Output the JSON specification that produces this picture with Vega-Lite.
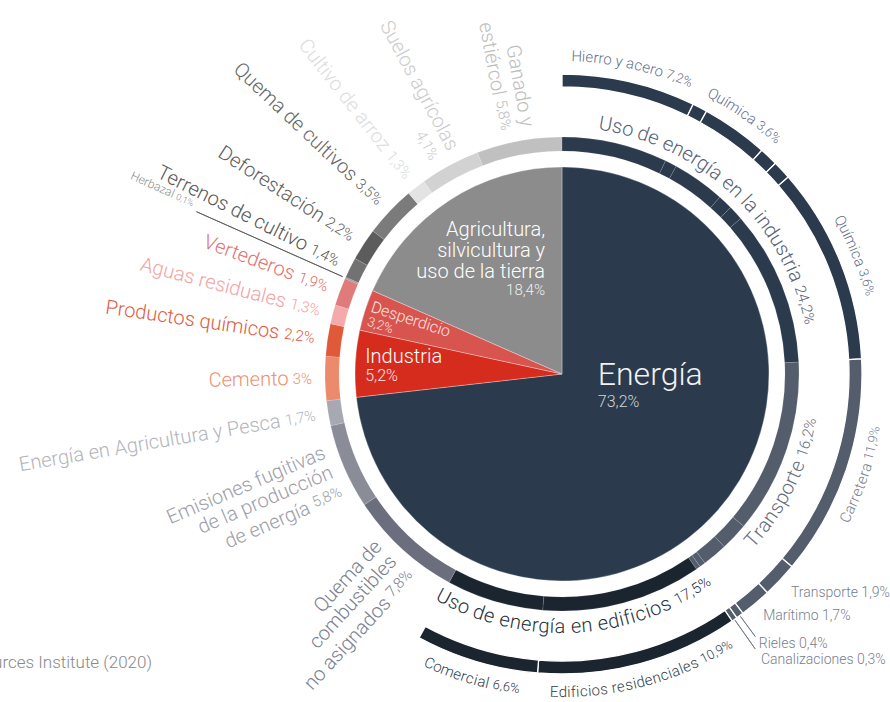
{
  "$schema": "https://vega.github.io/schema/vega-lite/v6.json",
  "autosize": {"type": "none"},
  "width": 600,
  "height": 600,
  "padding": {"left": 262, "top": 74, "right": 28, "bottom": 28},
  "background": "white",
  "config": {"view": {"stroke": null}, "font": "Roboto", "text": {"font": "Roboto", "fontWeight": 300}},
  "title": {"text": "Fuente: World Resources Institute (2020)", "orient": "bottom", "anchor": "start", "frame": "group", "align": "right", "baseline": "alphabetic", "dx": -110, "dy": -32, "offset": 0, "fontSize": 17, "fontWeight": 300, "color": "#888888", "font": "Roboto"},
  "data": {"values": [
    {"l1": "Energía", "l2": "Uso de energía en la industria", "l3": "Hierro y acero", "v": 7.2, "lab": "Hierro y acero", "pl": "7,2%"},
    {"l1": "Energía", "l2": "Uso de energía en la industria", "l3": "Metales no ferrosos", "v": 0.8},
    {"l1": "Energía", "l2": "Uso de energía en la industria", "l3": "Química", "v": 3.6, "lab": "Química", "pl": "3,6%"},
    {"l1": "Energía", "l2": "Uso de energía en la industria", "l3": "Alimentos y tabaco", "v": 1.0},
    {"l1": "Energía", "l2": "Uso de energía en la industria", "l3": "Papel, pulpa e impresión", "v": 1.0},
    {"l1": "Energía", "l2": "Uso de energía en la industria", "l3": "Otras industrias", "v": 10.6, "lab": "Química", "pl": "3,6%"},
    {"l1": "Energía", "l2": "Transporte", "l3": "Carretera", "v": 11.9, "lab": "Carretera", "pl": "11,9%"},
    {"l1": "Energía", "l2": "Transporte", "l3": "Aviación", "v": 1.9, "lab": "Transporte", "pl": "1,9%"},
    {"l1": "Energía", "l2": "Transporte", "l3": "Marítimo", "v": 1.7, "lab": "Marítimo", "pl": "1,7%"},
    {"l1": "Energía", "l2": "Transporte", "l3": "Rieles", "v": 0.4, "lab": "Rieles", "pl": "0,4%"},
    {"l1": "Energía", "l2": "Transporte", "l3": "Canalizaciones", "v": 0.3, "lab": "Canalizaciones", "pl": "0,3%"},
    {"l1": "Energía", "l2": "Uso de energía en edificios", "l3": "Edificios residenciales", "v": 10.9, "lab": "Edificios residenciales", "pl": "10,9%"},
    {"l1": "Energía", "l2": "Uso de energía en edificios", "l3": "Comercial", "v": 6.6, "lab": "Comercial", "pl": "6,6%"},
    {"l1": "Energía", "l2": "Quema de combustibles no asignados", "v": 7.8},
    {"l1": "Energía", "l2": "Emisiones fugitivas de la producción de energía", "v": 5.8},
    {"l1": "Energía", "l2": "Energía en Agricultura y Pesca", "v": 1.7},
    {"l1": "Industria", "l2": "Cemento", "v": 3.0},
    {"l1": "Industria", "l2": "Productos químicos", "v": 2.2},
    {"l1": "Desperdicio", "l2": "Aguas residuales", "v": 1.3},
    {"l1": "Desperdicio", "l2": "Vertederos", "v": 1.9},
    {"l1": "Agricultura, silvicultura y uso de la tierra", "l2": "Herbazal", "v": 0.1},
    {"l1": "Agricultura, silvicultura y uso de la tierra", "l2": "Terrenos de cultivo", "v": 1.4},
    {"l1": "Agricultura, silvicultura y uso de la tierra", "l2": "Deforestación", "v": 2.2},
    {"l1": "Agricultura, silvicultura y uso de la tierra", "l2": "Quema de cultivos", "v": 3.5},
    {"l1": "Agricultura, silvicultura y uso de la tierra", "l2": "Cultivo de arroz", "v": 1.3},
    {"l1": "Agricultura, silvicultura y uso de la tierra", "l2": "Suelos agrícolas", "v": 4.1},
    {"l1": "Agricultura, silvicultura y uso de la tierra", "l2": "Ganado y estiércol", "v": 5.8}
  ]},
  "transform": [
    {"stack": "v", "groupby": [], "as": ["s", "e"]},
    {"calculate": "({'Uso de energía en la industria':'#2b3a4d','Transporte':'#545d6c','Uso de energía en edificios':'#1b2530','Quema de combustibles no asignados':'#6b6e7d','Emisiones fugitivas de la producción de energía':'#8a8c98','Energía en Agricultura y Pesca':'#a7a8b2','Cemento':'#ec8a6c','Productos químicos':'#e05a3a','Aguas residuales':'#f4aaaa','Vertederos':'#e07b7b','Herbazal':'#9a9a9a','Terrenos de cultivo':'#727272','Deforestación':'#5c5c5c','Quema de cultivos':'#7b7b7b','Cultivo de arroz':'#e3e3e3','Suelos agrícolas':'#d2d2d2','Ganado y estiércol':'#c0c0c0'})[datum.l2]", "as": "c2"},
    {"calculate": "({'Uso de energía en la industria':'#56617a','Transporte':'#666e7d','Uso de energía en edificios':'#27313d','Quema de combustibles no asignados':'#7c8090','Emisiones fugitivas de la producción de energía':'#9c9ea8','Energía en Agricultura y Pesca':'#b3b4bc','Cemento':'#ee8f70','Productos químicos':'#df5a3d','Aguas residuales':'#f3a3a3','Vertederos':'#e07272','Herbazal':'#8c8c8c','Terrenos de cultivo':'#555555','Deforestación':'#5e5e5e','Quema de cultivos':'#666666','Cultivo de arroz':'#dddddd','Suelos agrícolas':'#cccccc','Ganado y estiércol':'#bdbdbd'})[datum.l2]", "as": "t2"}
  ],
  "layer": [
    {
      "transform": [
        {"aggregate": [{"op": "min", "field": "s", "as": "s"}, {"op": "max", "field": "e", "as": "e"}], "groupby": ["l1"]},
        {"calculate": "({'Energía':'#2b3a4d','Industria':'#d62c1e','Desperdicio':'#d8544e','Agricultura, silvicultura y uso de la tierra':'#8c8c8c'})[datum.l1]", "as": "c1"}
      ],
      "mark": {"type": "arc", "radius": 207, "stroke": "#ffffff", "strokeWidth": 0.6, "strokeOpacity": 0.5},
      "encoding": {
        "theta": {"field": "s", "type": "quantitative", "scale": {"domain": [0, 100]}},
        "theta2": {"field": "e"},
        "color": {"field": "c1", "type": "nominal", "scale": null}
      }
    },
    {
      "mark": {"type": "arc", "radius": 237, "radius2": 223, "stroke": "#ffffff", "strokeWidth": 0.8, "strokeOpacity": 0.15},
      "encoding": {
        "theta": {"field": "s", "type": "quantitative", "scale": {"domain": [0, 100]}},
        "theta2": {"field": "e"},
        "color": {"field": "c2", "type": "nominal", "scale": null}
      }
    },
    {
      "transform": [{"filter": "datum.l3 != null"}],
      "mark": {"type": "arc", "radius": 300, "radius2": 287, "stroke": "#ffffff", "strokeWidth": 1.3},
      "encoding": {
        "theta": {"field": "s", "type": "quantitative", "scale": {"domain": [0, 100]}},
        "theta2": {"field": "e"},
        "color": {"field": "c2", "type": "nominal", "scale": null}
      }
    },
    {
      "transform": [
        {"filter": "datum.l2 == 'Herbazal' || datum.l3 == 'Rieles' || datum.l3 == 'Canalizaciones'"},
        {"calculate": "(datum.s + datum.e) / 2", "as": "mid"},
        {"calculate": "datum.l2 == 'Herbazal' ? 240 : 301", "as": "r0"},
        {"calculate": "datum.l2 == 'Herbazal' ? 400 : (datum.l3 == 'Rieles' ? 326 : 336)", "as": "r1"},
        {"calculate": "datum.l2 == 'Herbazal' ? '#555555' : '#6b7281'", "as": "lc"}
      ],
      "mark": {"type": "arc", "strokeWidth": 0.8, "fillOpacity": 0},
      "encoding": {
        "theta": {"field": "mid", "type": "quantitative", "scale": {"domain": [0, 100]}},
        "theta2": {"field": "mid"},
        "radius": {"field": "r1", "type": "quantitative", "scale": null},
        "radius2": {"field": "r0"},
        "stroke": {"field": "lc", "type": "nominal", "scale": null}
      }
    },
    {
      "transform": [
        {"aggregate": [{"op": "min", "field": "s", "as": "s"}, {"op": "max", "field": "e", "as": "e"}, {"op": "sum", "field": "v", "as": "v"}], "groupby": ["l1"]},
        {"filter": "datum.l1 == 'Energía'"},
        {"calculate": "(datum.s + datum.e) / 2", "as": "mid"}
      ],
      "mark": {"type": "text", "radius": 48, "align": "left", "baseline": "alphabetic", "fontSize": 32, "dy": -21, "color": "#f2f2f2"},
      "encoding": {
        "theta": {"field": "mid", "type": "quantitative", "scale": {"domain": [0, 100]}},
        "text": {"field": "l1"}
      }
    },
    {
      "transform": [
        {"aggregate": [{"op": "min", "field": "s", "as": "s"}, {"op": "max", "field": "e", "as": "e"}, {"op": "sum", "field": "v", "as": "v"}], "groupby": ["l1"]},
        {"filter": "datum.l1 == 'Energía'"},
        {"calculate": "(datum.s + datum.e) / 2", "as": "mid"},
        {"calculate": "replace(format(datum.v, '.1~f'), '.', ',') + '%'", "as": "pct"}
      ],
      "mark": {"type": "text", "radius": 48, "align": "left", "baseline": "alphabetic", "fontSize": 16, "dy": 1, "color": "#d0d4da"},
      "encoding": {
        "theta": {"field": "mid", "type": "quantitative", "scale": {"domain": [0, 100]}},
        "text": {"field": "pct"}
      }
    },
    {
      "transform": [
        {"aggregate": [{"op": "min", "field": "s", "as": "s"}, {"op": "max", "field": "e", "as": "e"}, {"op": "sum", "field": "v", "as": "v"}], "groupby": ["l1"]},
        {"filter": "datum.l1 == 'Agricultura, silvicultura y uso de la tierra'"},
        {"calculate": "(datum.s + datum.e) / 2", "as": "mid"},
        {"calculate": "['Agricultura,', 'silvicultura y', 'uso de la tierra']", "as": "lines"}
      ],
      "mark": {"type": "text", "radius": 150, "align": "right", "baseline": "alphabetic", "fontSize": 20, "lineHeight": 21, "dx": 65, "dy": -12, "color": "#ffffff"},
      "encoding": {
        "theta": {"field": "mid", "type": "quantitative", "scale": {"domain": [0, 100]}},
        "text": {"field": "lines"}
      }
    },
    {
      "transform": [
        {"aggregate": [{"op": "min", "field": "s", "as": "s"}, {"op": "max", "field": "e", "as": "e"}, {"op": "sum", "field": "v", "as": "v"}], "groupby": ["l1"]},
        {"filter": "datum.l1 == 'Agricultura, silvicultura y uso de la tierra'"},
        {"calculate": "(datum.s + datum.e) / 2", "as": "mid"},
        {"calculate": "replace(format(datum.v, '.1~f'), '.', ',') + '%'", "as": "pct"}
      ],
      "mark": {"type": "text", "radius": 150, "align": "right", "baseline": "alphabetic", "fontSize": 15, "dx": 65, "dy": 47, "color": "#f0f0f0"},
      "encoding": {
        "theta": {"field": "mid", "type": "quantitative", "scale": {"domain": [0, 100]}},
        "text": {"field": "pct"}
      }
    },
    {
      "transform": [
        {"aggregate": [{"op": "min", "field": "s", "as": "s"}, {"op": "max", "field": "e", "as": "e"}, {"op": "sum", "field": "v", "as": "v"}], "groupby": ["l1"]},
        {"filter": "datum.l1 == 'Industria'"},
        {"calculate": "(datum.s + datum.e) / 2", "as": "mid"}
      ],
      "mark": {"type": "text", "radius": 180, "align": "left", "baseline": "alphabetic", "fontSize": 20, "dx": -17, "dy": -2, "color": "#ffffff"},
      "encoding": {
        "theta": {"field": "mid", "type": "quantitative", "scale": {"domain": [0, 100]}},
        "text": {"field": "l1"}
      }
    },
    {
      "transform": [
        {"aggregate": [{"op": "min", "field": "s", "as": "s"}, {"op": "max", "field": "e", "as": "e"}, {"op": "sum", "field": "v", "as": "v"}], "groupby": ["l1"]},
        {"filter": "datum.l1 == 'Industria'"},
        {"calculate": "(datum.s + datum.e) / 2", "as": "mid"},
        {"calculate": "replace(format(datum.v, '.1~f'), '.', ',') + '%'", "as": "pct"}
      ],
      "mark": {"type": "text", "radius": 180, "align": "left", "baseline": "alphabetic", "fontSize": 16, "dx": -17, "dy": 16, "color": "#fbe6e4"},
      "encoding": {
        "theta": {"field": "mid", "type": "quantitative", "scale": {"domain": [0, 100]}},
        "text": {"field": "pct"}
      }
    },
    {
      "transform": [
        {"aggregate": [{"op": "min", "field": "s", "as": "s"}, {"op": "max", "field": "e", "as": "e"}, {"op": "sum", "field": "v", "as": "v"}], "groupby": ["l1"]},
        {"filter": "datum.l1 == 'Desperdicio'"},
        {"calculate": "(datum.s + datum.e) / 2", "as": "mid"}
      ],
      "mark": {"type": "text", "radius": 202, "align": "left", "baseline": "alphabetic", "fontSize": 16, "angle": 18, "color": "#fbe3e1"},
      "encoding": {
        "theta": {"field": "mid", "type": "quantitative", "scale": {"domain": [0, 100]}},
        "text": {"field": "l1"}
      }
    },
    {
      "transform": [
        {"aggregate": [{"op": "min", "field": "s", "as": "s"}, {"op": "max", "field": "e", "as": "e"}, {"op": "sum", "field": "v", "as": "v"}], "groupby": ["l1"]},
        {"filter": "datum.l1 == 'Desperdicio'"},
        {"calculate": "(datum.s + datum.e) / 2", "as": "mid"},
        {"calculate": "replace(format(datum.v, '.1~f'), '.', ',') + '%'", "as": "pct"}
      ],
      "mark": {"type": "text", "radius": 202, "align": "left", "baseline": "alphabetic", "fontSize": 13, "angle": 18, "dx": 1, "dy": 14, "color": "#fbe3e1"},
      "encoding": {
        "theta": {"field": "mid", "type": "quantitative", "scale": {"domain": [0, 100]}},
        "text": {"field": "pct"}
      }
    },
    {
      "transform": [
        {"filter": "datum.s >= 57.85 && datum.l2 != 'Herbazal'"},
        {"calculate": "(datum.s + datum.e) / 2", "as": "mid"},
        {"calculate": "datum.mid * 3.6 - 270", "as": "rot"},
        {"calculate": "replace(format(datum.v, '.1~f'), '.', ',') + '%'", "as": "pct"},
        {"calculate": "({'Quema de combustibles no asignados': ['Quema de', 'combustibles', 'no asignados'], 'Emisiones fugitivas de la producción de energía': ['Emisiones fugitivas', 'de la producción', 'de energía'], 'Suelos agrícolas': ['Suelos agrícolas', ''], 'Ganado y estiércol': ['Ganado y', 'estiércol']})[datum.l2] || [datum.l2]", "as": "lines"},
        {"calculate": "length(datum.lines)", "as": "n"},
        {"flatten": ["lines"], "as": ["ln"]},
        {"window": [{"op": "row_number", "as": "k"}], "groupby": ["l2"]},
        {"calculate": "(datum.k - 1 - (datum.n - 1) / 2) * 21", "as": "off"},
        {"calculate": "datum.mid - datum.off / 250 * 100 / (2 * PI)", "as": "th"},
        {"calculate": "datum.k == datum.n ? 250 + 4 + 15 * (0.74 + (indexof(datum.pct, ',') >= 0 ? (length(datum.pct) - 2) * 0.562 + 0.25 : (length(datum.pct) - 1) * 0.562)) : 250", "as": "rl"}
      ],
      "mark": {"type": "text", "align": "right", "baseline": "middle", "fontSize": 20},
      "encoding": {
        "theta": {"field": "th", "type": "quantitative", "scale": {"domain": [0, 100]}},
        "radius": {"field": "rl", "type": "quantitative", "scale": null},
        "text": {"field": "ln"},
        "angle": {"field": "rot", "type": "quantitative", "scale": null},
        "color": {"field": "t2", "type": "nominal", "scale": null}
      }
    },
    {
      "transform": [
        {"filter": "datum.s >= 57.85 && datum.l2 != 'Herbazal'"},
        {"calculate": "(datum.s + datum.e) / 2", "as": "mid"},
        {"calculate": "datum.mid * 3.6 - 270", "as": "rot"},
        {"calculate": "replace(format(datum.v, '.1~f'), '.', ',') + '%'", "as": "pct"},
        {"calculate": "({'Quema de combustibles no asignados': 3, 'Emisiones fugitivas de la producción de energía': 3, 'Suelos agrícolas': 2, 'Ganado y estiércol': 2})[datum.l2] || 1", "as": "n"},
        {"calculate": "datum.mid - ((datum.n - 1) / 2) * 21 / 250 * 100 / (2 * PI)", "as": "th"}
      ],
      "mark": {"type": "text", "radius": 250, "align": "right", "baseline": "middle", "fontSize": 15},
      "encoding": {
        "theta": {"field": "th", "type": "quantitative", "scale": {"domain": [0, 100]}},
        "text": {"field": "pct"},
        "angle": {"field": "rot", "type": "quantitative", "scale": null},
        "color": {"field": "t2", "type": "nominal", "scale": null}
      }
    },
    {
      "transform": [
        {"filter": "datum.l2 == 'Herbazal'"},
        {"calculate": "(datum.s + datum.e) / 2", "as": "mid"},
        {"calculate": "datum.mid * 3.6 - 270", "as": "rot"},
        {"calculate": "406 + 2.5 + 9 * (0.74 + 2 * 0.562 + 0.25)", "as": "rl"}
      ],
      "mark": {"type": "text", "align": "right", "baseline": "alphabetic", "fontSize": 12, "dy": -3},
      "encoding": {
        "theta": {"field": "mid", "type": "quantitative", "scale": {"domain": [0, 100]}},
        "radius": {"field": "rl", "type": "quantitative", "scale": null},
        "text": {"field": "l2"},
        "angle": {"field": "rot", "type": "quantitative", "scale": null},
        "color": {"field": "t2", "type": "nominal", "scale": null}
      }
    },
    {
      "transform": [
        {"filter": "datum.l2 == 'Herbazal'"},
        {"calculate": "(datum.s + datum.e) / 2", "as": "mid"},
        {"calculate": "datum.mid * 3.6 - 270", "as": "rot"},
        {"calculate": "replace(format(datum.v, '.1~f'), '.', ',') + '%'", "as": "pct"}
      ],
      "mark": {"type": "text", "radius": 406, "align": "right", "baseline": "alphabetic", "fontSize": 9, "dy": -3},
      "encoding": {
        "theta": {"field": "mid", "type": "quantitative", "scale": {"domain": [0, 100]}},
        "text": {"field": "pct"},
        "angle": {"field": "rot", "type": "quantitative", "scale": null},
        "color": {"field": "t2", "type": "nominal", "scale": null}
      }
    },
    {
      "transform": [
        {"aggregate": [{"op": "min", "field": "s", "as": "s"}, {"op": "max", "field": "e", "as": "e"}, {"op": "sum", "field": "v", "as": "v"}, {"op": "min", "field": "t2", "as": "t2"}], "groupby": ["l2"]},
        {"filter": "datum.e <= 57.95"},
        {"calculate": "(datum.s + datum.e) / 2", "as": "mid"},
        {"calculate": "datum.l2 + ' ' + replace(format(datum.v, '.1~f'), '.', ',') + '%'", "as": "str"},
        {"calculate": "length(datum.l2) + 1", "as": "nl"},
        {"calculate": "split(datum.str, '')", "as": "chars"},
        {"flatten": ["chars"], "as": ["ch"]},
        {"window": [{"op": "row_number", "as": "idx"}], "groupby": ["l2"]},
        {"calculate": "datum.idx > datum.nl ? 15 : 20", "as": "fs"},
        {"calculate": "(indexof('iíjl,.;:|!', datum.ch) >= 0 ? 0.25 : indexof('frtI()', datum.ch) >= 0 ? 0.34 : datum.ch == ' ' ? 0.25 : indexof('mwMW', datum.ch) >= 0 ? 0.85 : datum.ch == '%' ? 0.74 : indexof('ABCDEFGHJKLNOPQRSTUVXYZ', datum.ch) >= 0 ? 0.63 : indexof('yvkxz', datum.ch) >= 0 ? 0.48 : 0.55) * datum.fs", "as": "w"},
        {"window": [{"op": "sum", "field": "w", "as": "cum"}], "groupby": ["l2"], "sort": [{"field": "idx"}], "frame": [null, 0]},
        {"joinaggregate": [{"op": "sum", "field": "w", "as": "tot"}], "groupby": ["l2"]},
        {"calculate": "datum.mid > 25 && datum.mid < 75 ? -1 : 1", "as": "dir"},
        {"calculate": "datum.mid + datum.dir * (datum.cum - datum.w / 2 - datum.tot / 2) / 253 * 100 / (2 * PI)", "as": "th"},
        {"calculate": "datum.dir > 0 ? datum.th * 3.6 : datum.th * 3.6 - 180", "as": "rot"}
      ],
      "mark": {"type": "text", "radius": 253, "align": "center", "baseline": "middle"},
      "encoding": {
        "theta": {"field": "th", "type": "quantitative", "scale": {"domain": [0, 100]}},
        "text": {"field": "ch"},
        "angle": {"field": "rot", "type": "quantitative", "scale": null},
        "size": {"field": "fs", "type": "quantitative", "scale": null},
        "color": {"field": "t2", "type": "nominal", "scale": null}
      }
    },
    {
      "transform": [
        {"filter": "datum.lab != null && indexof(['Aviación', 'Marítimo', 'Rieles', 'Canalizaciones'], datum.l3) < 0"},
        {"calculate": "(datum.s + datum.e) / 2", "as": "mid"},
        {"calculate": "({'Uso de energía en la industria':'#66708a','Transporte':'#778090','Uso de energía en edificios':'#333c48'})[datum.l2]", "as": "t3"},
        {"calculate": "datum.lab + ' ' + datum.pl", "as": "str"},
        {"calculate": "length(datum.lab) + 1", "as": "nl"},
        {"calculate": "split(datum.str, '')", "as": "chars"},
        {"flatten": ["chars"], "as": ["ch"]},
        {"window": [{"op": "row_number", "as": "idx"}], "groupby": ["l3"]},
        {"calculate": "datum.idx > datum.nl ? 13 : 15", "as": "fs"},
        {"calculate": "(indexof('iíjl,.;:|!', datum.ch) >= 0 ? 0.25 : indexof('frtI()', datum.ch) >= 0 ? 0.34 : datum.ch == ' ' ? 0.25 : indexof('mwMW', datum.ch) >= 0 ? 0.85 : datum.ch == '%' ? 0.74 : indexof('ABCDEFGHJKLNOPQRSTUVXYZ', datum.ch) >= 0 ? 0.63 : indexof('yvkxz', datum.ch) >= 0 ? 0.48 : 0.55) * datum.fs", "as": "w"},
        {"window": [{"op": "sum", "field": "w", "as": "cum"}], "groupby": ["l3"], "sort": [{"field": "idx"}], "frame": [null, 0]},
        {"joinaggregate": [{"op": "sum", "field": "w", "as": "tot"}], "groupby": ["l3"]},
        {"calculate": "datum.mid > 25 && datum.mid < 75 ? -1 : 1", "as": "dir"},
        {"calculate": "datum.mid + datum.dir * (datum.cum - datum.w / 2 - datum.tot / 2) / 318 * 100 / (2 * PI)", "as": "th"},
        {"calculate": "datum.dir > 0 ? datum.th * 3.6 : datum.th * 3.6 - 180", "as": "rot"}
      ],
      "mark": {"type": "text", "radius": 318, "align": "center", "baseline": "middle"},
      "encoding": {
        "theta": {"field": "th", "type": "quantitative", "scale": {"domain": [0, 100]}},
        "text": {"field": "ch"},
        "angle": {"field": "rot", "type": "quantitative", "scale": null},
        "size": {"field": "fs", "type": "quantitative", "scale": null},
        "color": {"field": "t3", "type": "nominal", "scale": null}
      }
    },
    {
      "transform": [
        {"filter": "indexof(['Aviación', 'Marítimo', 'Rieles', 'Canalizaciones'], datum.l3) >= 0"},
        {"calculate": "(datum.s + datum.e) / 2", "as": "mid"},
        {"calculate": "({'Aviación': 315, 'Marítimo': 312, 'Rieles': 332, 'Canalizaciones': 346})[datum.l3]", "as": "rr"},
        {"calculate": "datum.lab + ' ' + datum.pl", "as": "str"}
      ],
      "mark": {"type": "text", "align": "left", "baseline": "middle", "fontSize": 14, "dy": 3, "color": "#778090"},
      "encoding": {
        "theta": {"field": "mid", "type": "quantitative", "scale": {"domain": [0, 100]}},
        "radius": {"field": "rr", "type": "quantitative", "scale": null},
        "text": {"field": "str"}
      }
    }
  ]
}
